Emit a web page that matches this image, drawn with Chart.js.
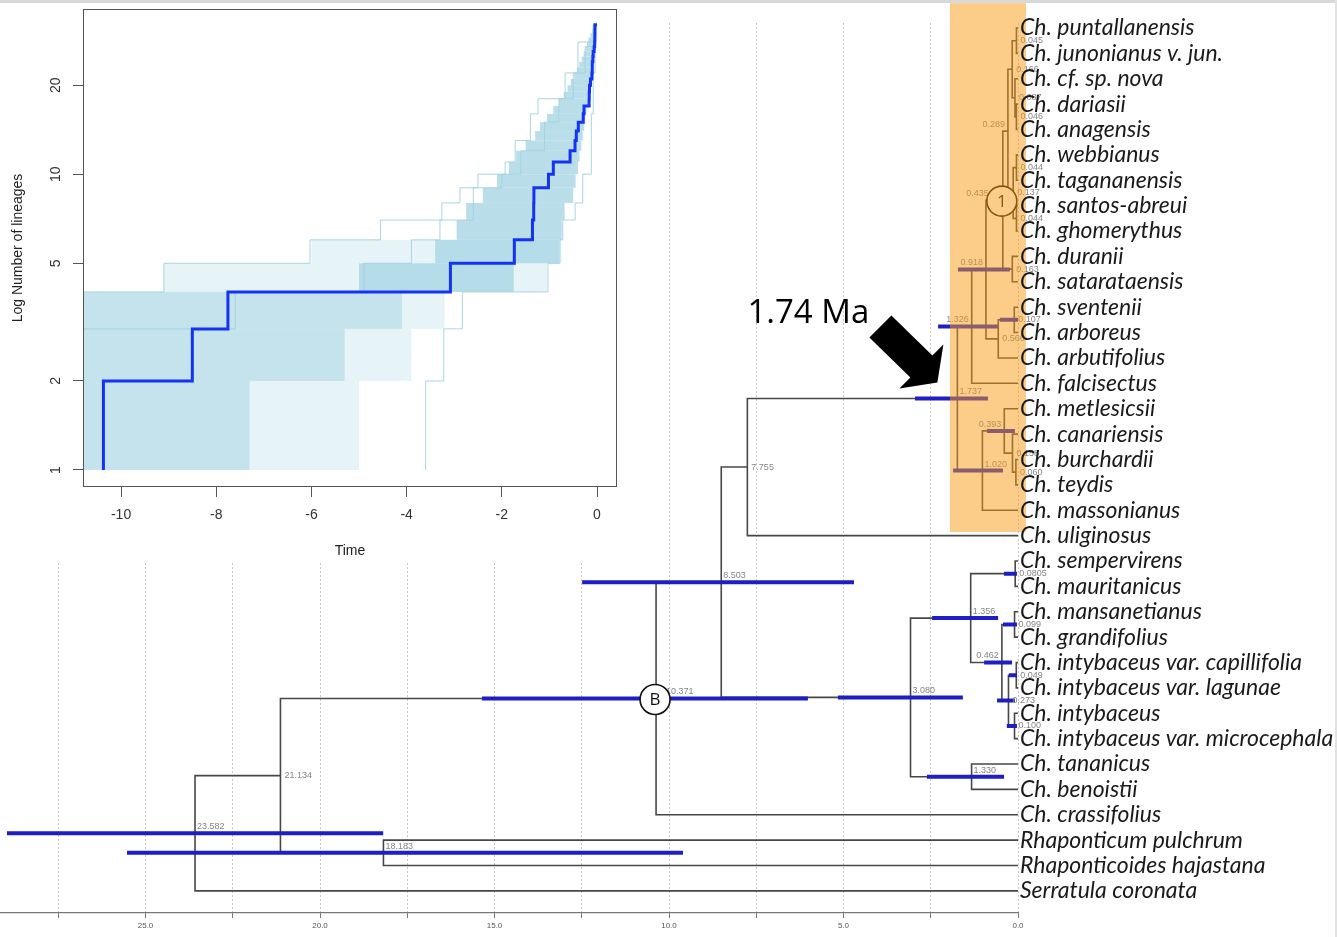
<!DOCTYPE html>
<html>
<head>
<meta charset="utf-8">
<script src="https://cdn.jsdelivr.net/npm/chart.js@4.4.1/dist/chart.umd.min.js"></script>
<style>
  html, body { margin: 0; padding: 0; background: #fff; }
  #wrap { position: relative; width: 1337px; height: 937px; overflow: hidden; }
  #tree { position: absolute; left: 0; top: 0; }
  #ltt { position: absolute; left: 0; top: 0; background: #fff; }
  #topband { position: absolute; left: 0; top: 0; width: 1337px; height: 3px; background: #d8d8d8; }
  #rightband { position: absolute; left: 1335px; top: 0; width: 2px; height: 937px; background: #e2e2e2; }
</style>
</head>
<body>
<div id="wrap">
  <canvas id="tree" width="1337" height="937" style="width:1337px;height:937px"></canvas>
  <canvas id="ltt" width="625" height="562" style="width:625px;height:562px"></canvas>
  <div id="topband"></div>
  <div id="rightband"></div>
</div>
<script>
// ---- tree data ----
const taxa = [
  'Ch. puntallanensis', 'Ch. junonianus v. jun.', 'Ch. cf. sp. nova', 'Ch. dariasii',
  'Ch. anagensis', 'Ch. webbianus', 'Ch. tagananensis', 'Ch. santos-abreui',
  'Ch. ghomerythus', 'Ch. duranii', 'Ch. satarataensis', 'Ch. sventenii',
  'Ch. arboreus', 'Ch. arbutifolius', 'Ch. falcisectus', 'Ch. metlesicsii',
  'Ch. canariensis', 'Ch. burchardii', 'Ch. teydis', 'Ch. massonianus',
  'Ch. uliginosus', 'Ch. sempervirens', 'Ch. mauritanicus', 'Ch. mansanetianus',
  'Ch. grandifolius', 'Ch. intybaceus var. capillifolia', 'Ch. intybaceus var. lagunae',
  'Ch. intybaceus', 'Ch. intybaceus var. microcephala', 'Ch. tananicus',
  'Ch. benoistii', 'Ch. crassifolius', 'Rhaponticum pulchrum',
  'Rhaponticoides hajastana', 'Serratula coronata'
];

// node ages (Ma), as printed on the tree
const nodeLabels = [
  '0.045', '0.046', '0.087', '0.166', '0.044', '0.044', '0.137', '0.289', '0.163', '0.435',
  '0.107', '0.566', '0.918', '1.326', '0.060', '0.158', '0.393', '1.020', '1.737', '7.755',
  '0.0805', '0.099', '0.049', '0.100', '0.273', '0.462', '1.356', '1.330', '3.080', '8.503',
  '10.371', '18.183', '21.134', '23.582'
];
const nodeAges = nodeLabels.map(Number);

// children of each node: numbers are taxa, 'nK' is node K
const nodeChildren = [
  [0, 1], [3, 4], [2, 'n1'], ['n0', 'n2'], [5, 6], [7, 8], ['n4', 'n5'], ['n3', 'n6'], [9, 10], ['n7', 'n8'],
  [11, 12], ['n10', 13], ['n9', 'n11'], ['n12', 14], [17, 18], [16, 'n14'], [15, 'n15'], ['n16', 19], ['n13', 'n17'], ['n18', 20],
  [21, 22], [23, 24], [25, 26], [27, 28], ['n22', 'n23'], ['n21', 'n24'], ['n20', 'n25'], [29, 30], ['n26', 'n27'], ['n19', 'n28'],
  ['n29', 31], [32, 33], ['n30', 'n31'], ['n32', 34]
];

// 95% HPD interval of node ages (old, young); null = no bar drawn
const hpdOld = [
  null, null, null, null, null, null, null, null, null, null,
  0.52, null, 1.72, 2.29, null, null, 0.89, 1.86, 2.95, null,
  0.40, 0.43, 0.26, 0.32, 0.60, 0.97, 2.46, 2.61, 5.16, 12.49,
  15.36, 25.53, null, 28.97
];
const hpdYoung = [
  null, null, null, null, null, null, null, null, null, null,
  0.0, null, 0.23, 0.57, null, null, 0.09, 0.43, 0.86, null,
  0.03, 0.03, 0.03, 0.03, 0.09, 0.17, 0.57, 0.40, 1.58, 4.70,
  6.02, 9.60, null, 18.19
];

const axisTicks = [25, 20, 15, 10, 5, 0];
const circledNodes = [[9, '1'], [30, 'B']];
const cladeBox = { old: 1.95, young: -0.23, top: -0.98, bottom: 19.86 };
const arrowNode = 18;
const arrowText = '1.74 Ma';

// ---- LTT data ----
const lttTimeTicks = [-10, -8, -6, -4, -2, 0];
const lttCountTicks = [1, 2, 5, 10, 20];
// densest part of the posterior cloud, per lineage level k -> k+1
const lttCoreFrom = [-10.8, -10.8, -10.8, -5.0, -3.4, -2.95, -2.75, -2.4, -2.1, -1.85, -1.7, -1.5, -1.3, -1.2, -1.05, -0.92,
  -0.8, -0.7, -0.62, -0.55, -0.48, -0.42, -0.37, -0.32, -0.28, -0.24, -0.21, -0.18, -0.14, -0.1, -0.06];
const lttCoreTo = [-7.3, -5.3, -4.1, -1.75, -0.8, -0.74, -0.68, -0.5, -0.45, -0.4, -0.37, -0.33, -0.3, -0.27, -0.25, -0.22,
  -0.18, -0.15, -0.13, -0.12, -0.1, -0.09, -0.08, -0.07, -0.06, -0.05, -0.04, -0.035, -0.03, -0.02, -0.01];
// thinner part of the cloud for the first levels
const lttSparseFrom = [-7.3, -5.3, -4.1, -9.1, -6.0];
const lttSparseTo = [-5.0, -3.9, -3.2, -1.05, -0.75];
// outermost posterior trees: [time, lineages]
const lttEarlyTree = [[-10.8, 4], [-9.1, 5], [-6.03, 6], [-4.55, 7], [-3.26, 8], [-2.88, 9], [-2.5, 10], [-1.93, 11],
  [-1.72, 13], [-1.4, 16], [-1.24, 18], [-0.67, 22], [-0.4, 28], [-0.05, 32], [0, 32]];
const lttLateTree = [[-3.6, 1], [-3.6, 2], [-3.22, 3], [-2.83, 4], [-1.03, 5], [-0.78, 6], [-0.72, 7], [-0.46, 8],
  [-0.3, 10], [-0.12, 16], [-0.08, 22], [-0.04, 28], [-0.02, 32], [0, 32]];
const lttMidTree = [[-10.8, 3], [-7.6, 4], [-4.9, 5], [-3.9, 6], [-3.3, 7], [-2.6, 9], [-2.0, 10], [-1.6, 12],
  [-1.1, 15], [-0.8, 18], [-0.5, 22], [-0.25, 27], [-0.08, 32], [0, 32]];

// ---- build tree geometry ----
const nodePos = [];
function ref(c) { return typeof c === 'number' ? { age: 0, y: c } : nodePos[+c.slice(1)]; }
nodeChildren.forEach((kids, i) => {
  nodePos[i] = { age: nodeAges[i], y: (ref(kids[0]).y + ref(kids[1]).y) / 2 };
});

const branchPts = [];
nodeChildren.forEach((kids, i) => {
  const p = nodePos[i], a = ref(kids[0]), b = ref(kids[1]);
  branchPts.push({ x: a.age, y: a.y }, { x: p.age, y: a.y }, { x: p.age, y: b.y }, { x: b.age, y: b.y }, { x: null, y: null });
});

const hpdPts = [];
nodePos.forEach((p, i) => {
  if (hpdOld[i] === null) return;
  hpdPts.push({ x: hpdOld[i], y: p.y }, { x: hpdYoung[i], y: p.y }, { x: null, y: null });
});

// label placement: a = above, right of node; b = above, left of node; m = beside node
// A / B = same, but pushed clear of a circled mark
const labelPlace = ['m', 'm', 'm', 'm', 'm', 'm', 'm', 'b', 'm', 'B', 'm', 'm', 'b', 'b', 'm', 'm', 'b', 'a', 'a', 'm',
  'm', 'm', 'm', 'm', 'm', 'b', 'a', 'a', 'a', 'a', 'A', 'a', 'm', 'a'];

const treeDecor = {
  id: 'treeDecor',
  afterDatasetsDraw(chart) {
    const { ctx, scales: { x, y } } = chart;
    ctx.save();
    // node ages
    ctx.font = '9px "Liberation Sans", Arial, sans-serif';
    ctx.fillStyle = '#858585';
    nodePos.forEach((p, i) => {
      const px = x.getPixelForValue(p.age), py = y.getPixelForValue(p.y);
      const pl = labelPlace[i];
      if (pl === 'a' || pl === 'A') {
        ctx.textAlign = 'left'; ctx.textBaseline = 'bottom';
        ctx.fillText(nodeLabels[i], px + (pl === 'A' ? 10 : 2), py - 2);
      } else if (pl === 'b' || pl === 'B') {
        ctx.textAlign = 'right'; ctx.textBaseline = 'bottom';
        ctx.fillText(nodeLabels[i], px - (pl === 'B' ? 14 : 3), py - 2);
      } else {
        ctx.textAlign = 'left'; ctx.textBaseline = 'middle';
        ctx.fillText(nodeLabels[i], px + 4, py);
      }
    });
    // circled node marks
    circledNodes.forEach(([n, txt]) => {
      const px = x.getPixelForValue(nodePos[n].age), py = y.getPixelForValue(nodePos[n].y);
      ctx.beginPath();
      ctx.arc(px - 1, py + 1, 15, 0, Math.PI * 2);
      ctx.fillStyle = '#fff'; ctx.fill();
      ctx.lineWidth = 1.6; ctx.strokeStyle = '#111'; ctx.stroke();
      ctx.fillStyle = '#111'; ctx.textAlign = 'center'; ctx.textBaseline = 'middle';
      ctx.font = '17px "Open Sans", sans-serif';
      ctx.fillText(txt, px - 1, py + 2);
    });
    // highlighted clade
    const bx1 = x.getPixelForValue(cladeBox.old), bx2 = x.getPixelForValue(cladeBox.young);
    const by1 = y.getPixelForValue(cladeBox.top), by2 = y.getPixelForValue(cladeBox.bottom);
    ctx.fillStyle = 'rgba(249,153,19,0.5)';
    ctx.fillRect(bx1, by1, bx2 - bx1, by2 - by1);
    // arrow to the crown node
    const ax = x.getPixelForValue(nodePos[arrowNode].age), ay = y.getPixelForValue(nodePos[arrowNode].y);
    const shape = [[-88, -61], [-47, -21], [-58, -10], [-20, -16], [-14, -54], [-25, -43], [-66, -83]];
    ctx.beginPath();
    shape.forEach(([dx, dy], k) => k ? ctx.lineTo(ax + dx, ay + dy) : ctx.moveTo(ax + dx, ay + dy));
    ctx.closePath();
    ctx.fillStyle = '#000'; ctx.fill();
    ctx.font = '33px "Open Sans", sans-serif';
    ctx.textAlign = 'left'; ctx.textBaseline = 'alphabetic';
    ctx.fillText(arrowText, ax - 210, ay - 75);
    ctx.restore();
  }
};

new Chart(document.getElementById('tree'), {
  type: 'scatter',
  data: {
    datasets: [
      { data: hpdPts, showLine: true, borderColor: 'rgb(30,30,196)', borderWidth: 4, pointRadius: 0, order: 1 },
      { data: branchPts, showLine: true, borderColor: '#474747', borderWidth: 1.6, pointRadius: 0, order: 2 }
    ]
  },
  options: {
    responsive: false,
    animation: false,
    layout: { padding: { top: 23, left: 0, right: 0, bottom: 0 } },
    plugins: { legend: { display: false }, tooltip: { enabled: false } },
    scales: {
      x: {
        type: 'linear', reverse: true, min: 0, max: 29.17,
        afterFit(s) { s.height = 24; },
        ticks: {
          stepSize: 2.5, includeBounds: false, autoSkip: false, maxRotation: 0, padding: 3,
          color: '#555', font: { family: '"Liberation Sans", Arial', size: 8 },
          callback: v => axisTicks.includes(v) ? v.toFixed(1) : ''
        },
        grid: { color: '#c6c6c6', lineWidth: 1, tickLength: 5, tickColor: '#777', drawOnChartArea: true },
        border: { display: true, color: '#777', width: 1.2, dash: [2, 2] }
      },
      y: {
        type: 'linear', position: 'right', reverse: true, min: -0.197, max: 34.87,
        afterFit(s) { s.width = 319; },
        afterBuildTicks(s) { s.ticks = taxa.map((t, i) => ({ value: i })); },
        ticks: {
          autoSkip: false, padding: 2, z: 1, color: '#1a1a1a',
          font: { family: 'Lato', size: 23, style: 'italic' },
          callback: v => taxa[v]
        },
        grid: { display: false, drawTicks: false, tickLength: 0 },
        border: { display: false }
      }
    }
  },
  plugins: [treeDecor]
});

// ---- LTT inset ----
function stepData(pts) { return pts.map(([t, n]) => ({ x: t, y: n })); }
const mccAges = nodeAges.filter(a => a <= nodeAges[30]).sort((a, b) => b - a);
const mccPts = [{ x: -mccAges[0], y: 1 }];
mccAges.forEach((a, i) => mccPts.push({ x: -a, y: i + 2 }));
mccPts.push({ x: 0, y: mccAges.length + 1 });

const lttDecor = {
  id: 'lttDecor',
  beforeDatasetsDraw(chart) {
    const { ctx, chartArea: a, scales: { x, y } } = chart;
    ctx.save();
    ctx.beginPath(); ctx.rect(a.left, a.top, a.right - a.left, a.bottom - a.top); ctx.clip();
    ctx.fillStyle = 'rgba(173,216,230,0.3)';
    lttSparseFrom.forEach((t, k) => {
      const x1 = x.getPixelForValue(t), x2 = x.getPixelForValue(lttSparseTo[k]);
      const y1 = y.getPixelForValue(k + 2), y2 = y.getPixelForValue(k + 1);
      ctx.fillRect(x1, y1, x2 - x1, y2 - y1);
    });
    lttCoreFrom.forEach((t, k) => {
      const x1 = x.getPixelForValue(t), x2 = x.getPixelForValue(lttCoreTo[k]);
      const y1 = y.getPixelForValue(k + 2), y2 = y.getPixelForValue(k + 1);
      // the oldest levels are striped rather than solid in the posterior cloud
      ctx.fillStyle = k < 3 ? 'rgba(173,216,230,0.72)' : 'rgba(173,216,230,0.85)';
      ctx.fillRect(x1, y1, x2 - x1, y2 - y1);
    });
    ctx.restore();
  },
  afterDraw(chart) {
    const { ctx, chartArea: a, scales: { y } } = chart;
    ctx.save();
    ctx.strokeStyle = '#555'; ctx.lineWidth = 1;
    ctx.strokeRect(a.left + 0.5, a.top + 0.5, a.right - a.left - 1, a.bottom - a.top - 1);
    ctx.font = '14px "Liberation Sans", Arial, sans-serif';
    ctx.fillStyle = '#333'; ctx.textAlign = 'center'; ctx.textBaseline = 'middle';
    lttCountTicks.forEach(v => {
      ctx.save();
      ctx.translate(a.left - 27, y.getPixelForValue(v));
      ctx.rotate(-Math.PI / 2);
      ctx.fillText(String(v), 0, 0);
      ctx.restore();
    });
    ctx.restore();
  }
};

const thinLine = { showLine: true, stepped: 'before', borderColor: 'rgba(160,208,224,0.9)', borderWidth: 1, pointRadius: 0 };
new Chart(document.getElementById('ltt'), {
  type: 'scatter',
  data: {
    datasets: [
      { data: mccPts, showLine: true, stepped: 'before', borderColor: '#1533f2', borderWidth: 3, pointRadius: 0 },
      Object.assign({ data: stepData(lttEarlyTree) }, thinLine),
      Object.assign({ data: stepData(lttMidTree) }, thinLine),
      Object.assign({ data: stepData(lttLateTree) }, thinLine)
    ]
  },
  options: {
    responsive: false,
    animation: false,
    layout: { padding: { top: 9, right: 8, left: 0, bottom: 0 } },
    plugins: { legend: { display: false }, tooltip: { enabled: false } },
    scales: {
      x: {
        type: 'linear', min: -10.8, max: 0.42,
        afterFit(s) { s.height = 75; },
        afterBuildTicks(s) { s.ticks = lttTimeTicks.map(v => ({ value: v })); },
        ticks: { padding: 10, maxRotation: 0, color: '#333', font: { family: '"Liberation Sans", Arial', size: 14 } },
        grid: { drawOnChartArea: false, tickLength: 10, color: '#555' },
        border: { display: false },
        title: { display: true, text: 'Time', color: '#222', font: { family: '"Liberation Sans", Arial', size: 14 }, padding: { bottom: 2 } }
      },
      y: {
        type: 'logarithmic', min: 0.876, max: 36.2,
        afterFit(s) { s.width = 83; },
        afterBuildTicks(s) { s.ticks = lttCountTicks.map(v => ({ value: v })); },
        ticks: { display: false },
        grid: { drawOnChartArea: false, tickLength: 10, color: '#555' },
        border: { display: false },
        title: { display: true, text: 'Log Number of lineages', color: '#222', font: { family: '"Liberation Sans", Arial', size: 14 }, padding: { top: 10 } }
      }
    }
  },
  plugins: [lttDecor]
});
</script>
</body>
</html>
